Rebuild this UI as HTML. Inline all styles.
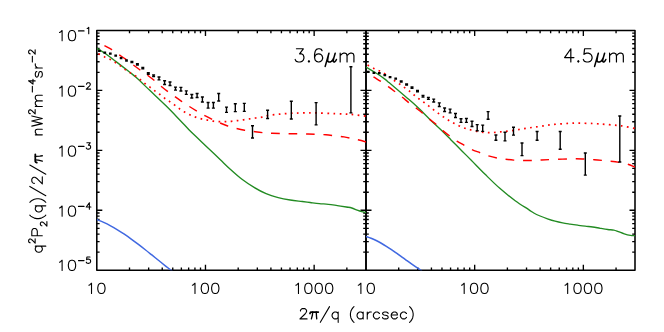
<!DOCTYPE html>
<html><head><meta charset="utf-8"><title>plot</title>
<style>html,body{margin:0;padding:0;background:#fff;font-family:"Liberation Sans",sans-serif}svg{display:block}</style></head><body>
<svg width="664" height="332" viewBox="0 0 664 332">
<rect width="664" height="332" fill="#fff"/>
<defs><clipPath id="cl"><rect x="96.8" y="30.4" width="269.2" height="239.8"/></clipPath><clipPath id="cr"><rect x="366" y="30.4" width="269" height="239.8"/></clipPath></defs>
<path d="M129.51 270.2v-2.8M129.51 30.4v2.8M148.65 270.2v-2.8M148.65 30.4v2.8M162.23 270.2v-2.8M162.23 30.4v2.8M172.76 270.2v-2.8M172.76 30.4v2.8M181.37 270.2v-2.8M181.37 30.4v2.8M188.64 270.2v-2.8M188.64 30.4v2.8M194.94 270.2v-2.8M194.94 30.4v2.8M200.5 270.2v-2.8M200.5 30.4v2.8M205.47 270.2v-5.5M205.47 30.4v5.5M238.19 270.2v-2.8M238.19 30.4v2.8M257.33 270.2v-2.8M257.33 30.4v2.8M270.9 270.2v-2.8M270.9 30.4v2.8M281.43 270.2v-2.8M281.43 30.4v2.8M290.04 270.2v-2.8M290.04 30.4v2.8M297.32 270.2v-2.8M297.32 30.4v2.8M303.62 270.2v-2.8M303.62 30.4v2.8M309.18 270.2v-2.8M309.18 30.4v2.8M314.15 270.2v-5.5M314.15 30.4v5.5M346.86 270.2v-2.8M346.86 30.4v2.8M398.71 270.2v-2.8M398.71 30.4v2.8M417.85 270.2v-2.8M417.85 30.4v2.8M431.43 270.2v-2.8M431.43 30.4v2.8M441.96 270.2v-2.8M441.96 30.4v2.8M450.57 270.2v-2.8M450.57 30.4v2.8M457.84 270.2v-2.8M457.84 30.4v2.8M464.14 270.2v-2.8M464.14 30.4v2.8M469.7 270.2v-2.8M469.7 30.4v2.8M474.67 270.2v-5.5M474.67 30.4v5.5M507.39 270.2v-2.8M507.39 30.4v2.8M526.53 270.2v-2.8M526.53 30.4v2.8M540.1 270.2v-2.8M540.1 30.4v2.8M550.63 270.2v-2.8M550.63 30.4v2.8M559.24 270.2v-2.8M559.24 30.4v2.8M566.52 270.2v-2.8M566.52 30.4v2.8M572.82 270.2v-2.8M572.82 30.4v2.8M578.38 270.2v-2.8M578.38 30.4v2.8M583.35 270.2v-5.5M583.35 30.4v5.5M616.06 270.2v-2.8M616.06 30.4v2.8M96.8 90.35h5.5M360.5 90.35h11M635 90.35h-5.5M96.8 72.3h2.8M363.2 72.3h5.6M635 72.3h-2.8M96.8 61.75h2.8M363.2 61.75h5.6M635 61.75h-2.8M96.8 54.26h2.8M363.2 54.26h5.6M635 54.26h-2.8M96.8 48.45h2.8M363.2 48.45h5.6M635 48.45h-2.8M96.8 43.7h2.8M363.2 43.7h5.6M635 43.7h-2.8M96.8 39.69h2.8M363.2 39.69h5.6M635 39.69h-2.8M96.8 36.21h2.8M363.2 36.21h5.6M635 36.21h-2.8M96.8 33.14h2.8M363.2 33.14h5.6M635 33.14h-2.8M96.8 150.3h5.5M360.5 150.3h11M635 150.3h-5.5M96.8 132.25h2.8M363.2 132.25h5.6M635 132.25h-2.8M96.8 121.7h2.8M363.2 121.7h5.6M635 121.7h-2.8M96.8 114.21h2.8M363.2 114.21h5.6M635 114.21h-2.8M96.8 108.4h2.8M363.2 108.4h5.6M635 108.4h-2.8M96.8 103.65h2.8M363.2 103.65h5.6M635 103.65h-2.8M96.8 99.64h2.8M363.2 99.64h5.6M635 99.64h-2.8M96.8 96.16h2.8M363.2 96.16h5.6M635 96.16h-2.8M96.8 93.09h2.8M363.2 93.09h5.6M635 93.09h-2.8M96.8 210.25h5.5M360.5 210.25h11M635 210.25h-5.5M96.8 192.2h2.8M363.2 192.2h5.6M635 192.2h-2.8M96.8 181.65h2.8M363.2 181.65h5.6M635 181.65h-2.8M96.8 174.16h2.8M363.2 174.16h5.6M635 174.16h-2.8M96.8 168.35h2.8M363.2 168.35h5.6M635 168.35h-2.8M96.8 163.6h2.8M363.2 163.6h5.6M635 163.6h-2.8M96.8 159.59h2.8M363.2 159.59h5.6M635 159.59h-2.8M96.8 156.11h2.8M363.2 156.11h5.6M635 156.11h-2.8M96.8 153.04h2.8M363.2 153.04h5.6M635 153.04h-2.8M96.8 252.15h2.8M363.2 252.15h5.6M635 252.15h-2.8M96.8 241.6h2.8M363.2 241.6h5.6M635 241.6h-2.8M96.8 234.11h2.8M363.2 234.11h5.6M635 234.11h-2.8M96.8 228.3h2.8M363.2 228.3h5.6M635 228.3h-2.8M96.8 223.55h2.8M363.2 223.55h5.6M635 223.55h-2.8M96.8 219.54h2.8M363.2 219.54h5.6M635 219.54h-2.8M96.8 216.06h2.8M363.2 216.06h5.6M635 216.06h-2.8M96.8 212.99h2.8M363.2 212.99h5.6M635 212.99h-2.8" fill="none" stroke="#000" stroke-width="1.35"/>
<path d="M96.8 30.4H635V270.2H96.8Z" fill="none" stroke="#000" stroke-width="1.55" stroke-linejoin="round"/>
<path d="M366 30.4V270.2" fill="none" stroke="#000" stroke-width="1.9"/>
<defs><clipPath id="cl"><rect x="96.8" y="30.4" width="269.2" height="239.8"/></clipPath><clipPath id="cr"><rect x="366" y="30.4" width="269" height="239.8"/></clipPath></defs>
<g fill="none" stroke-linejoin="round">
<g clip-path="url(#cl)">
<path d="M96.8 219.59 C97.95 220.06 101.39 221.35 103.68 222.39 C105.98 223.43 108.27 224.58 110.56 225.82 C112.86 227.05 115.15 228.39 117.45 229.79 C119.74 231.19 122.03 232.68 124.33 234.23 C126.62 235.77 128.92 237.39 131.21 239.05 C133.5 240.7 135.8 242.42 138.09 244.17 C140.38 245.91 142.68 247.7 144.97 249.51 C147.27 251.31 149.56 253.15 151.85 254.98 C154.15 256.82 156.44 258.67 158.74 260.51 C161.03 262.35 163.32 264.2 165.62 266.02 C167.91 267.83 171.35 270.51 172.5 271.41" stroke="#4169e1" stroke-width="1.55"/>
<path d="M96.8 48.3 C98.13 49.13 101.65 51.12 104.8 53.3 C107.95 55.48 111.63 58.32 115.7 61.4 C119.77 64.48 125.82 69.15 129.2 71.8 C132.58 74.45 132.53 74.17 136 77.3 C139.47 80.43 145 85.85 150 90.6 C155 95.35 161 100.87 166 105.8 C171 110.73 176.13 116.17 180 120.2 C183.87 124.23 186.02 126.78 189.2 130 C192.38 133.22 195.97 136.5 199.1 139.5 C202.23 142.5 204.5 144.67 208 148 C211.5 151.33 216.43 156 220.1 159.5 C223.77 163 226.35 165.7 230 169 C233.65 172.3 237.98 176.23 242 179.3 C246.02 182.37 250.08 185 254.1 187.4 C258.12 189.8 262.08 192 266.1 193.7 C270.12 195.4 274.18 196.55 278.2 197.6 C282.22 198.65 286.18 199.35 290.2 200 C294.22 200.65 298.97 201.08 302.3 201.5 C305.63 201.92 307.37 202.15 310.2 202.5 C313.03 202.85 316.28 203.3 319.3 203.6 C322.32 203.9 325.3 203.97 328.3 204.3 C331.3 204.63 334.28 205.15 337.3 205.6 C340.32 206.05 343.98 206.6 346.4 207 C348.82 207.4 350 207.48 351.8 208 C353.6 208.52 355.55 209.5 357.2 210.1 C358.85 210.7 360.23 211.18 361.7 211.6 C363.17 212.02 365.28 212.43 366 212.6" stroke="#228b22" stroke-width="1.35"/>
<path d="M96.8 52.9 C97.17 53.08 97.7 53.33 99 54 C100.3 54.67 102.72 56 104.6 56.9 C106.48 57.8 108.5 58.47 110.3 59.4 C112.1 60.33 113.72 61.42 115.4 62.5 C117.08 63.58 118.77 64.72 120.4 65.9 C122.03 67.08 123.55 68.43 125.2 69.6 C126.85 70.77 128.58 71.85 130.3 72.9 C132.02 73.95 133.85 74.78 135.5 75.9 C137.15 77.02 138.67 78.37 140.2 79.6 C141.73 80.83 143.08 82.05 144.7 83.3 C146.32 84.55 148.22 85.83 149.9 87.1 C151.58 88.37 153.18 89.7 154.8 90.9 C156.42 92.1 157.97 93.08 159.6 94.3 C161.23 95.52 162.97 97.02 164.6 98.2 C166.23 99.38 167.77 100.28 169.4 101.4 C171.03 102.52 172.8 103.73 174.4 104.9 C176 106.07 177.38 107.25 179 108.4 C180.62 109.55 182.3 110.73 184.1 111.8 C185.9 112.87 187.92 113.92 189.8 114.8 C191.68 115.68 193.47 116.42 195.4 117.1 C197.33 117.78 199.4 118.4 201.4 118.9 C203.4 119.4 205.4 119.72 207.4 120.1 C209.4 120.48 211.38 120.95 213.4 121.2 C215.42 121.45 217.48 121.53 219.5 121.6 C221.52 121.67 223.5 121.65 225.5 121.6 C227.5 121.55 229.5 121.47 231.5 121.3 C233.5 121.13 235.48 120.85 237.5 120.6 C239.52 120.35 241.58 120.08 243.6 119.8 C245.62 119.52 247.6 119.2 249.6 118.9 C251.6 118.6 253.55 118.3 255.6 118 C257.65 117.7 259.9 117.5 261.9 117.1 C263.9 116.7 264.75 116.08 267.6 115.6 C270.45 115.12 275.1 114.58 279 114.2 C282.9 113.82 287 113.52 291 113.3 C295 113.08 298.83 112.97 303 112.9 C307.17 112.83 310.67 112.78 316 112.9 C321.33 113.02 329.17 113.35 335 113.6 C340.83 113.85 345.83 113.97 351 114.4 C356.17 114.83 363.5 115.9 366 116.2" stroke="#ff0000" stroke-width="1.7" stroke-dasharray="1.7 4.38" stroke-dashoffset="4.2"/>
<path d="M96.8 41.4 C98.07 42.1 101.9 44.22 104.4 45.6 C106.9 46.98 109.32 48.15 111.8 49.7 C114.28 51.25 117 53.32 119.3 54.9 C121.6 56.48 123.27 57.52 125.6 59.2 C127.93 60.88 130.88 63.2 133.3 65 C135.72 66.8 137.77 68.32 140.1 70 C142.43 71.68 144.97 73.38 147.3 75.1 C149.63 76.82 151.85 78.48 154.1 80.3 C156.35 82.12 158.55 84.15 160.8 86 C163.05 87.85 165.33 89.68 167.6 91.4 C169.87 93.12 172.02 94.6 174.4 96.3 C176.78 98 179.48 99.95 181.9 101.6 C184.32 103.25 186.4 104.62 188.9 106.2 C191.4 107.78 194.43 109.62 196.9 111.1 C199.37 112.58 201.32 113.8 203.7 115.1 C206.08 116.4 208.57 117.63 211.2 118.9 C213.83 120.17 216.75 121.52 219.5 122.7 C222.25 123.88 224.95 125.05 227.7 126 C230.45 126.95 233.18 127.68 236 128.4 C238.82 129.12 241.72 129.78 244.6 130.3 C247.48 130.82 250.33 131.12 253.3 131.5 C256.27 131.88 259.28 132.3 262.4 132.6 C265.52 132.9 267.4 133.12 272 133.3 C276.6 133.48 284 133.58 290 133.7 C296 133.82 303.5 133.9 308 134 C312.5 134.1 314 134.17 317 134.3 C320 134.43 323 134.55 326 134.8 C329 135.05 332 135.45 335 135.8 C338 136.15 341.17 136.45 344 136.9 C346.83 137.35 349.5 137.98 352 138.5 C354.5 139.02 356.67 139.42 359 140 C361.33 140.58 364.83 141.67 366 142" stroke="#ff0000" stroke-width="1.45" stroke-dasharray="8.72 8.72" stroke-dashoffset="8.72"/>
</g>
<g clip-path="url(#cr)">
<path d="M366 236.46 C366.85 236.75 369.39 237.56 371.09 238.24 C372.79 238.91 374.48 239.69 376.18 240.53 C377.88 241.36 379.58 242.28 381.27 243.25 C382.97 244.22 384.67 245.26 386.36 246.33 C388.06 247.4 389.76 248.53 391.45 249.67 C393.15 250.82 394.85 252.02 396.55 253.21 C398.24 254.41 399.94 255.64 401.64 256.86 C403.33 258.09 405.03 259.33 406.73 260.54 C408.42 261.76 410.12 262.99 411.82 264.17 C413.52 265.36 415.21 266.54 416.91 267.67 C418.61 268.81 421.15 270.41 422 270.96" stroke="#4169e1" stroke-width="1.55"/>
<path d="M366 67 C367.13 67.68 370.55 69.72 372.8 71.1 C375.05 72.48 377.55 74 379.5 75.3 C381.45 76.6 382.92 77.68 384.5 78.9 C386.08 80.12 386.73 80.7 389 82.6 C391.27 84.5 395.08 87.75 398.1 90.3 C401.12 92.85 404.47 95.65 407.1 97.9 C409.73 100.15 411.75 101.85 413.9 103.8 C416.05 105.75 417.3 106.95 420 109.6 C422.7 112.25 426.62 116.33 430.1 119.7 C433.58 123.07 437.42 126.43 440.9 129.8 C444.38 133.17 447.45 136.33 451 139.9 C454.55 143.47 458.78 147.77 462.2 151.2 C465.62 154.63 467.68 156.65 471.5 160.5 C475.32 164.35 480.33 169.62 485.1 174.3 C489.87 178.98 495.08 184.2 500.1 188.6 C505.12 193 510.43 197.2 515.2 200.7 C519.97 204.2 525.6 207.55 528.7 209.6 C531.8 211.65 531.9 211.93 533.8 213 C535.7 214.07 537.82 215.03 540.1 216 C542.38 216.97 545 217.93 547.5 218.8 C550 219.67 552.58 220.52 555.1 221.2 C557.62 221.88 560.1 222.42 562.6 222.9 C565.1 223.38 567.58 223.72 570.1 224.1 C572.62 224.48 575.18 224.85 577.7 225.2 C580.22 225.55 582.7 225.9 585.2 226.2 C587.7 226.5 590.2 226.65 592.7 227 C595.2 227.35 597.68 227.88 600.2 228.3 C602.72 228.72 605.53 229.2 607.8 229.5 C610.07 229.8 612.05 229.75 613.8 230.1 C615.55 230.45 616.55 230.97 618.3 231.6 C620.05 232.23 622.28 233.27 624.3 233.9 C626.32 234.53 628.62 235.1 630.4 235.4 C632.18 235.7 634.23 235.65 635 235.7" stroke="#228b22" stroke-width="1.35"/>
<path d="M366 64.2 C366.38 64.4 366.98 64.7 368.3 65.4 C369.62 66.1 372.07 67.5 373.9 68.4 C375.73 69.3 377.48 69.9 379.3 70.8 C381.12 71.7 383.07 72.75 384.8 73.8 C386.53 74.85 388.07 75.95 389.7 77.1 C391.33 78.25 392.9 79.5 394.6 80.7 C396.3 81.9 398.23 83.15 399.9 84.3 C401.57 85.45 403 86.45 404.6 87.6 C406.2 88.75 407.92 89.97 409.5 91.2 C411.08 92.43 412.55 93.73 414.1 95 C415.65 96.27 417.18 97.58 418.8 98.8 C420.42 100.02 422.17 101.12 423.8 102.3 C425.43 103.48 427 104.67 428.6 105.9 C430.2 107.13 431.77 108.45 433.4 109.7 C435.03 110.95 436.73 112.2 438.4 113.4 C440.07 114.6 441.72 115.77 443.4 116.9 C445.08 118.03 446.77 119.15 448.5 120.2 C450.23 121.25 452.02 122.25 453.8 123.2 C455.58 124.15 457.37 125.07 459.2 125.9 C461.03 126.73 462.95 127.55 464.8 128.2 C466.65 128.85 467.75 129.17 470.3 129.8 C472.85 130.43 476.88 131.52 480.1 132 C483.32 132.48 486.43 132.7 489.6 132.7 C492.77 132.7 495.93 132.28 499.1 132 C502.27 131.72 505.27 131.42 508.6 131 C511.93 130.58 515.6 130.03 519.1 129.5 C522.6 128.97 526.08 128.32 529.6 127.8 C533.12 127.28 536.43 126.93 540.2 126.4 C543.97 125.87 546.68 125.13 552.2 124.6 C557.72 124.07 566.28 123.37 573.3 123.2 C580.32 123.03 588.33 123.35 594.3 123.6 C600.27 123.85 604.53 124.32 609.1 124.7 C613.67 125.08 617.38 125.27 621.7 125.9 C626.02 126.53 632.78 128.07 635 128.5" stroke="#ff0000" stroke-width="1.7" stroke-dasharray="1.7 4.38" stroke-dashoffset="4.2"/>
<path d="M366 72.2 C367.32 73.02 371.38 75.53 373.9 77.1 C376.42 78.67 378.65 79.97 381.1 81.6 C383.55 83.23 386.17 85.13 388.6 86.9 C391.03 88.67 393.4 90.47 395.7 92.2 C398 93.93 400.23 95.57 402.4 97.3 C404.57 99.03 406.47 100.83 408.7 102.6 C410.93 104.37 413.48 106.15 415.8 107.9 C418.12 109.65 420.33 111.23 422.6 113.1 C424.87 114.97 427.17 117.23 429.4 119.1 C431.63 120.97 433.77 122.38 436 124.3 C438.23 126.22 440.55 128.68 442.8 130.6 C445.05 132.52 447.15 134.05 449.5 135.8 C451.85 137.55 454.43 139.52 456.9 141.1 C459.37 142.68 461.83 143.9 464.3 145.3 C466.77 146.7 469.07 148.27 471.7 149.5 C474.33 150.73 477.3 151.63 480.1 152.7 C482.9 153.77 485.68 155.02 488.5 155.9 C491.32 156.78 494.18 157.45 497 158 C499.82 158.55 502.6 158.85 505.4 159.2 C508.2 159.55 510.82 159.88 513.8 160.1 C516.78 160.32 520.32 160.43 523.3 160.5 C526.28 160.57 528.88 160.57 531.7 160.5 C534.52 160.43 536.78 160.27 540.2 160.1 C543.62 159.93 546.68 159.72 552.2 159.5 C557.72 159.28 568.03 158.88 573.3 158.8 C578.57 158.72 580.3 158.85 583.8 159 C587.3 159.15 590.78 159.42 594.3 159.7 C597.82 159.98 601.38 160.35 604.9 160.7 C608.42 161.05 611.88 161.3 615.4 161.8 C618.92 162.3 622.73 162.83 626 163.7 C629.27 164.57 633.5 166.45 635 167" stroke="#ff0000" stroke-width="1.45" stroke-dasharray="8.77 8.77" stroke-dashoffset="8.77"/>
</g>
</g>
<path d="M99.4 50.4V51.2M98.05 50.4H100.75M98.05 51.2H100.75M104.8 52.2V53M103.45 52.2H106.15M103.45 53H106.15M110.3 53.2V54M108.95 53.2H111.65M108.95 54H111.65M115.7 55.15V56.05M114.35 55.15H117.05M114.35 56.05H117.05M121.1 57.6V58.6M119.75 57.6H122.45M119.75 58.6H122.45M126.5 60V61M125.15 60H127.85M125.15 61H127.85M131.9 61.55V62.65M130.4 61.55H133.4M130.4 62.65H133.4M137.4 63.8V65M135.9 63.8H138.9M135.9 65H138.9M142.8 67.55V68.85M141.3 67.55H144.3M141.3 68.85H144.3M148.3 72.8V74.2M146.8 72.8H149.8M146.8 74.2H149.8M153.6 75V76.6M152.1 75H155.1M152.1 76.6H155.1M159 76.95V79.85M157.5 76.95H160.5M157.5 79.85H160.5M164.6 80.75V84.45M163.1 80.75H166.1M163.1 84.45H166.1M170 82.05V85.55M168.5 82.05H171.5M168.5 85.55H171.5M175.5 87.15V90.15M174 87.15H177M174 90.15H177M180.9 87.35V90.95M179.4 87.35H182.4M179.4 90.95H182.4M186.3 90.85V94.35M184.8 90.85H187.8M184.8 94.35H187.8M191.8 94.45V98.05M190.3 94.45H193.3M190.3 98.05H193.3M197.1 93.55V97.55M195.6 93.55H198.6M195.6 97.55H198.6M202.4 97.05V102.05M200.9 97.05H203.9M200.9 102.05H203.9M208.1 102.55V108.15M206.6 102.55H209.6M206.6 108.15H209.6M213.4 102.55V108.15M211.9 102.55H214.9M211.9 108.15H214.9M218.7 93.55V101.05M217.2 93.55H220.2M217.2 101.05H220.2M226.5 107.15V112.35M225 107.15H228M225 112.35H228M235.3 103.75V111.65M233.8 103.75H236.8M233.8 111.65H236.8M244.3 103.35V111.35M242.8 103.35H245.8M242.8 111.35H245.8M252.5 125.75V137.95M251 125.75H254M251 137.95H254M267.6 110.25V118.55M266.1 110.25H269.1M266.1 118.55H269.1M291.3 101.25V118.95M289.8 101.25H292.8M289.8 118.95H292.8M316.1 102.65V124.85M314.6 102.65H317.6M314.6 124.85H317.6M350.9 66.75V112.85M349.4 66.75H352.4M349.4 112.85H352.4M368.3 71.4V72.2M366.95 71.4H369.65M366.95 72.2H369.65M373.9 72.5V73.3M372.55 72.5H375.25M372.55 73.3H375.25M379.3 72.8V73.6M377.95 72.8H380.65M377.95 73.6H380.65M384.8 74.75V75.65M383.45 74.75H386.15M383.45 75.65H386.15M390.1 76.6V77.6M388.75 76.6H391.45M388.75 77.6H391.45M395.7 78.1V79.1M394.35 78.1H397.05M394.35 79.1H397.05M401.2 80.95V82.05M399.7 80.95H402.7M399.7 82.05H402.7M406.6 83.9V85.1M405.1 83.9H408.1M405.1 85.1H408.1M412 86.95V88.25M410.5 86.95H413.5M410.5 88.25H413.5M417.5 90.5V91.9M416 90.5H419M416 91.9H419M423 95.5V97.1M421.5 95.5H424.5M421.5 97.1H424.5M428.4 97.4V99.2M426.9 97.4H429.9M426.9 99.2H429.9M433.7 99.15V102.05M432.2 99.15H435.2M432.2 102.05H435.2M439.3 102.85V106.55M437.8 102.85H440.8M437.8 106.55H440.8M444.6 108.05V111.55M443.1 108.05H446.1M443.1 111.55H446.1M450.1 109.15V112.85M448.6 109.15H451.6M448.6 112.85H451.6M455.5 113.55V117.45M454 113.55H457M454 117.45H457M461 118.75V122.35M459.5 118.75H462.5M459.5 122.35H462.5M466.4 118.45V122.35M464.9 118.45H467.9M464.9 122.35H467.9M472 121.25V126.55M470.5 121.25H473.5M470.5 126.55H473.5M477.2 124.65V130.75M475.7 124.65H478.7M475.7 130.75H478.7M482.7 125.15V131.35M481.2 125.15H484.2M481.2 131.35H484.2M488.1 111.65V119.25M486.6 111.65H489.6M486.6 119.25H489.6M495.9 135.05V140.25M494.4 135.05H497.4M494.4 140.25H497.4M505 132.25V140.85M503.5 132.25H506.5M503.5 140.85H506.5M513.5 127.25V135.15M512 127.25H515M512 135.15H515M522 142.95V155.65M520.5 142.95H523.5M520.5 155.65H523.5M537.1 131.45V140.25M535.6 131.45H538.6M535.6 140.25H538.6M560.2 131.45V149.25M558.7 131.45H561.7M558.7 149.25H561.7M585.3 152.95V175.15M583.8 152.95H586.8M583.8 175.15H586.8M619.8 116.05V161.95M618.3 116.05H621.3M618.3 161.95H621.3" fill="none" stroke="#000" stroke-width="1.4"/>
<g fill="none" stroke="#000" stroke-linecap="round" stroke-linejoin="round">
<path d="M59.52 32.47L60.56 31.98L62.12 30.51L62.12 40.8 M71.48 30.51L69.92 31L68.88 32.47L68.36 34.92L68.36 36.39L68.88 38.84L69.92 40.31L71.48 40.8L72.52 40.8L74.08 40.31L75.12 38.84L75.64 36.39L75.64 34.92L75.12 32.47L74.08 31L72.52 30.51L71.48 30.51 M78.45 30.92L84.06 30.92 M87.18 28.49L87.81 28.18L88.74 27.27L88.74 33.65" stroke-width="1.1"/>
<path d="M59.52 87.97L60.56 87.48L62.12 86.01L62.12 96.3 M71.48 86.01L69.92 86.5L68.88 87.97L68.36 90.42L68.36 91.89L68.88 94.34L69.92 95.81L71.48 96.3L72.52 96.3L74.08 95.81L75.12 94.34L75.64 91.89L75.64 90.42L75.12 87.97L74.08 86.5L72.52 86.01L71.48 86.01 M78.45 86.42L84.06 86.42 M86.56 84.29L86.56 83.99L86.87 83.38L87.18 83.07L87.81 82.77L89.06 82.77L89.68 83.07L89.99 83.38L90.3 83.99L90.3 84.59L89.99 85.2L89.37 86.11L86.25 89.15L90.62 89.15" stroke-width="1.1"/>
<path d="M59.52 147.97L60.56 147.48L62.12 146.01L62.12 156.3 M71.48 146.01L69.92 146.5L68.88 147.97L68.36 150.42L68.36 151.89L68.88 154.34L69.92 155.81L71.48 156.3L72.52 156.3L74.08 155.81L75.12 154.34L75.64 151.89L75.64 150.42L75.12 147.97L74.08 146.5L72.52 146.01L71.48 146.01 M78.45 146.42L84.06 146.42 M86.87 142.77L90.3 142.77L88.43 145.2L89.37 145.2L89.99 145.5L90.3 145.81L90.62 146.72L90.62 147.33L90.3 148.24L89.68 148.85L88.74 149.15L87.81 149.15L86.87 148.85L86.56 148.54L86.25 147.93" stroke-width="1.1"/>
<path d="M59.52 207.97L60.56 207.48L62.12 206.01L62.12 216.3 M71.48 206.01L69.92 206.5L68.88 207.97L68.36 210.42L68.36 211.89L68.88 214.34L69.92 215.81L71.48 216.3L72.52 216.3L74.08 215.81L75.12 214.34L75.64 211.89L75.64 210.42L75.12 207.97L74.08 206.5L72.52 206.01L71.48 206.01 M78.45 206.42L84.06 206.42 M89.37 202.77L86.25 207.02L90.93 207.02 M89.37 202.77L89.37 209.15" stroke-width="1.1"/>
<path d="M59.52 262.17L60.56 261.68L62.12 260.21L62.12 270.5 M71.48 260.21L69.92 260.7L68.88 262.17L68.36 264.62L68.36 266.09L68.88 268.54L69.92 270.01L71.48 270.5L72.52 270.5L74.08 270.01L75.12 268.54L75.64 266.09L75.64 264.62L75.12 262.17L74.08 260.7L72.52 260.21L71.48 260.21 M78.45 260.62L84.06 260.62 M89.99 256.97L86.87 256.97L86.56 259.7L86.87 259.4L87.81 259.1L88.74 259.1L89.68 259.4L90.3 260.01L90.62 260.92L90.62 261.53L90.3 262.44L89.68 263.05L88.74 263.35L87.81 263.35L86.87 263.05L86.56 262.74L86.25 262.13" stroke-width="1.1"/>
<path d="M88.92 285.17L89.96 284.68L91.52 283.21L91.52 293.5 M100.88 283.21L99.32 283.7L98.28 285.17L97.76 287.62L97.76 289.09L98.28 291.54L99.32 293.01L100.88 293.5L101.92 293.5L103.48 293.01L104.52 291.54L105.04 289.09L105.04 287.62L104.52 285.17L103.48 283.7L101.92 283.21L100.88 283.21" stroke-width="1.1"/>
<path d="M192.39 285.17L193.43 284.68L194.99 283.21L194.99 293.5 M204.35 283.21L202.79 283.7L201.75 285.17L201.23 287.62L201.23 289.09L201.75 291.54L202.79 293.01L204.35 293.5L205.39 293.5L206.95 293.01L207.99 291.54L208.51 289.09L208.51 287.62L207.99 285.17L206.95 283.7L205.39 283.21L204.35 283.21 M214.75 283.21L213.19 283.7L212.15 285.17L211.63 287.62L211.63 289.09L212.15 291.54L213.19 293.01L214.75 293.5L215.79 293.5L217.35 293.01L218.39 291.54L218.91 289.09L218.91 287.62L218.39 285.17L217.35 283.7L215.79 283.21L214.75 283.21" stroke-width="1.1"/>
<path d="M295.87 285.17L296.91 284.68L298.47 283.21L298.47 293.5 M307.83 283.21L306.27 283.7L305.23 285.17L304.71 287.62L304.71 289.09L305.23 291.54L306.27 293.01L307.83 293.5L308.87 293.5L310.43 293.01L311.47 291.54L311.99 289.09L311.99 287.62L311.47 285.17L310.43 283.7L308.87 283.21L307.83 283.21 M318.23 283.21L316.67 283.7L315.63 285.17L315.11 287.62L315.11 289.09L315.63 291.54L316.67 293.01L318.23 293.5L319.27 293.5L320.83 293.01L321.87 291.54L322.39 289.09L322.39 287.62L321.87 285.17L320.83 283.7L319.27 283.21L318.23 283.21 M328.63 283.21L327.07 283.7L326.03 285.17L325.51 287.62L325.51 289.09L326.03 291.54L327.07 293.01L328.63 293.5L329.67 293.5L331.23 293.01L332.27 291.54L332.79 289.09L332.79 287.62L332.27 285.17L331.23 283.7L329.67 283.21L328.63 283.21" stroke-width="1.1"/>
<path d="M358.3 285.17L359.34 284.68L360.9 283.21L360.9 293.5 M370.26 283.21L368.7 283.7L367.66 285.17L367.14 287.62L367.14 289.09L367.66 291.54L368.7 293.01L370.26 293.5L371.3 293.5L372.86 293.01L373.9 291.54L374.42 289.09L374.42 287.62L373.9 285.17L372.86 283.7L371.3 283.21L370.26 283.21" stroke-width="1.1"/>
<path d="M461.59 285.17L462.63 284.68L464.19 283.21L464.19 293.5 M473.55 283.21L471.99 283.7L470.95 285.17L470.43 287.62L470.43 289.09L470.95 291.54L471.99 293.01L473.55 293.5L474.59 293.5L476.15 293.01L477.19 291.54L477.71 289.09L477.71 287.62L477.19 285.17L476.15 283.7L474.59 283.21L473.55 283.21 M483.95 283.21L482.39 283.7L481.35 285.17L480.83 287.62L480.83 289.09L481.35 291.54L482.39 293.01L483.95 293.5L484.99 293.5L486.55 293.01L487.59 291.54L488.11 289.09L488.11 287.62L487.59 285.17L486.55 283.7L484.99 283.21L483.95 283.21" stroke-width="1.1"/>
<path d="M565.07 285.17L566.11 284.68L567.67 283.21L567.67 293.5 M577.03 283.21L575.47 283.7L574.43 285.17L573.91 287.62L573.91 289.09L574.43 291.54L575.47 293.01L577.03 293.5L578.07 293.5L579.63 293.01L580.67 291.54L581.19 289.09L581.19 287.62L580.67 285.17L579.63 283.7L578.07 283.21L577.03 283.21 M587.43 283.21L585.87 283.7L584.83 285.17L584.31 287.62L584.31 289.09L584.83 291.54L585.87 293.01L587.43 293.5L588.47 293.5L590.03 293.01L591.07 291.54L591.59 289.09L591.59 287.62L591.07 285.17L590.03 283.7L588.47 283.21L587.43 283.21 M597.83 283.21L596.27 283.7L595.23 285.17L594.71 287.62L594.71 289.09L595.23 291.54L596.27 293.01L597.83 293.5L598.87 293.5L600.43 293.01L601.47 291.54L601.99 289.09L601.99 287.62L601.47 285.17L600.43 283.7L598.87 283.21L597.83 283.21" stroke-width="1.1"/>
<path d="M296.43 48.77L303.3 48.77L299.55 53.81L301.43 53.81L302.68 54.44L303.3 55.07L303.93 56.96L303.93 58.22L303.3 60.11L302.05 61.37L300.18 62L298.3 62L296.43 61.37L295.8 60.74L295.18 59.48 M308.93 60.74L308.3 61.37L308.93 62L309.55 61.37L308.93 60.74 M322.05 50.66L321.43 49.4L319.55 48.77L318.3 48.77L316.43 49.4L315.18 51.29L314.55 54.44L314.55 57.59L315.18 60.11L316.43 61.37L318.3 62L318.93 62L320.8 61.37L322.05 60.11L322.68 58.22L322.68 57.59L322.05 55.7L320.8 54.44L318.93 53.81L318.3 53.81L316.43 54.44L315.18 55.7L314.55 57.59 M340.18 53.18L340.18 62 M340.18 55.7L342.05 53.81L343.3 53.18L345.18 53.18L346.43 53.81L347.05 55.7L347.05 62 M347.05 55.7L348.93 53.81L350.18 53.18L352.05 53.18L353.3 53.81L353.93 55.7L353.93 62" stroke-width="1.2"/>
<path d="M328.93 53.18L325.18 66.41 M328.3 55.7L327.68 59.48L327.68 61.37L328.93 62L330.18 62L331.43 61.37L332.68 60.11L333.93 57.59 M335.18 53.18L333.93 57.59L333.3 60.11L333.3 61.37L333.93 62L334.55 62L335.8 60.74L336.43 59.48" stroke-width="1.55"/>
<path d="M570.83 48.77L564.58 57.59L573.95 57.59 M570.83 48.77L570.83 62 M578.33 60.74L577.7 61.37L578.33 62L578.95 61.37L578.33 60.74 M590.83 48.77L584.58 48.77L583.95 54.44L584.58 53.81L586.45 53.18L588.33 53.18L590.2 53.81L591.45 55.07L592.08 56.96L592.08 58.22L591.45 60.11L590.2 61.37L588.33 62L586.45 62L584.58 61.37L583.95 60.74L583.33 59.48 M609.58 53.18L609.58 62 M609.58 55.7L611.45 53.81L612.7 53.18L614.58 53.18L615.83 53.81L616.45 55.7L616.45 62 M616.45 55.7L618.33 53.81L619.58 53.18L621.45 53.18L622.7 53.81L623.33 55.7L623.33 62" stroke-width="1.2"/>
<path d="M598.33 53.18L594.58 66.41 M597.7 55.7L597.08 59.48L597.08 61.37L598.33 62L599.58 62L600.83 61.37L602.08 60.11L603.33 57.59 M604.58 53.18L603.33 57.59L602.7 60.11L602.7 61.37L603.33 62L603.95 62L605.2 60.74L605.83 59.48" stroke-width="1.55"/>
<path d="M300.44 311.06L300.44 310.57L300.95 309.59L301.46 309.1L302.48 308.61L304.52 308.61L305.54 309.1L306.05 309.59L306.56 310.57L306.56 311.55L306.05 312.53L305.03 314L299.93 318.9L307.07 318.9 M329.51 306.65L320.33 322.33 M338.18 312.04L338.18 322.33 M338.18 313.51L337.16 312.53L336.14 312.04L334.61 312.04L333.59 312.53L332.57 313.51L332.06 314.98L332.06 315.96L332.57 317.43L333.59 318.41L334.61 318.9L336.14 318.9L337.16 318.41L338.18 317.43 M353.99 306.65L352.97 307.63L351.95 309.1L350.93 311.06L350.42 313.51L350.42 315.47L350.93 317.92L351.95 319.88L352.97 321.35L353.99 322.33 M363.17 312.04L363.17 318.9 M363.17 313.51L362.15 312.53L361.13 312.04L359.6 312.04L358.58 312.53L357.56 313.51L357.05 314.98L357.05 315.96L357.56 317.43L358.58 318.41L359.6 318.9L361.13 318.9L362.15 318.41L363.17 317.43 M367.25 312.04L367.25 318.9 M367.25 314.98L367.76 313.51L368.78 312.53L369.8 312.04L371.33 312.04 M379.49 313.51L378.47 312.53L377.45 312.04L375.92 312.04L374.9 312.53L373.88 313.51L373.37 314.98L373.37 315.96L373.88 317.43L374.9 318.41L375.92 318.9L377.45 318.9L378.47 318.41L379.49 317.43 M388.16 313.51L387.65 312.53L386.12 312.04L384.59 312.04L383.06 312.53L382.55 313.51L383.06 314.49L384.08 314.98L386.63 315.47L387.65 315.96L388.16 316.94L388.16 317.43L387.65 318.41L386.12 318.9L384.59 318.9L383.06 318.41L382.55 317.43 M391.22 314.98L397.34 314.98L397.34 314L396.83 313.02L396.32 312.53L395.3 312.04L393.77 312.04L392.75 312.53L391.73 313.51L391.22 314.98L391.22 315.96L391.73 317.43L392.75 318.41L393.77 318.9L395.3 318.9L396.32 318.41L397.34 317.43 M406.52 313.51L405.5 312.53L404.48 312.04L402.95 312.04L401.93 312.53L400.91 313.51L400.4 314.98L400.4 315.96L400.91 317.43L401.93 318.41L402.95 318.9L404.48 318.9L405.5 318.41L406.52 317.43 M409.58 306.65L410.6 307.63L411.62 309.1L412.64 311.06L413.15 313.51L413.15 315.47L412.64 317.92L411.62 319.88L410.6 321.35L409.58 322.33" stroke-width="1.1"/>
<path d="M309.98 313.51L310.38 312.53L311.15 312.04L318.29 312.04" stroke-width="1.75"/>
<path d="M312.68 312.04L312.42 314.98L311.4 318.9 M316.25 312.04L316.5 316.45L316.76 318.9" stroke-width="1.35"/>
<path d="M35.3 246.14L45.8 246.14 M36.8 246.14L35.8 247.16L35.3 248.18L35.3 249.71L35.8 250.73L36.8 251.76L38.3 252.27L39.3 252.27L40.8 251.76L41.8 250.73L42.3 249.71L42.3 248.18L41.8 247.16L40.8 246.14 M30.19 242.82L29.88 242.82L29.26 242.51L28.95 242.19L28.64 241.56L28.64 240.29L28.95 239.66L29.26 239.34L29.88 239.02L30.5 239.02L31.12 239.34L32.05 239.97L35.15 243.14L35.15 238.71 M31.8 235.71L42.3 235.71 M31.8 235.71L31.8 231.11L32.3 229.58L32.8 229.07L33.8 228.56L35.3 228.56L36.3 229.07L36.8 229.58L37.3 231.11L37.3 235.71 M41.94 225.76L41.63 225.76L41.01 225.44L40.7 225.12L40.39 224.49L40.39 223.22L40.7 222.59L41.01 222.27L41.63 221.95L42.25 221.95L42.87 222.27L43.8 222.9L46.9 226.07L46.9 221.64 M29.8 215.07L30.8 216.09L32.3 217.11L34.3 218.13L36.8 218.64L38.8 218.64L41.3 218.13L43.3 217.11L44.8 216.09L45.8 215.07 M35.3 205.87L45.8 205.87 M36.8 205.87L35.8 206.89L35.3 207.91L35.3 209.45L35.8 210.47L36.8 211.49L38.3 212L39.3 212L40.8 211.49L41.8 210.47L42.3 209.45L42.3 207.91L41.8 206.89L40.8 205.87 M29.8 202.29L30.8 201.27L32.3 200.25L34.3 199.23L36.8 198.71L38.8 198.71L41.3 199.23L43.3 200.25L44.8 201.27L45.8 202.29 M29.8 186.45L45.8 195.65 M34.3 183.38L33.8 183.38L32.8 182.87L32.3 182.36L31.8 181.34L31.8 179.3L32.3 178.27L32.8 177.76L33.8 177.25L34.8 177.25L35.8 177.76L37.3 178.79L42.3 183.9L42.3 176.74 M29.8 164.99L45.8 174.19 M35.3 134.84L42.3 134.84 M37.3 134.84L35.8 133.31L35.3 132.28L35.3 130.75L35.8 129.73L37.3 129.22L42.3 129.22 M31.8 126.15L42.3 123.6 M31.8 121.04L42.3 123.6 M31.8 121.04L42.3 118.49 M31.8 115.93L42.3 118.49 M30.19 113.64L29.88 113.64L29.26 113.33L28.95 113.01L28.64 112.38L28.64 111.11L28.95 110.47L29.26 110.16L29.88 109.84L30.5 109.84L31.12 110.16L32.05 110.79L35.15 113.96L35.15 109.52 M35.3 106.53L42.3 106.53 M37.3 106.53L35.8 105L35.3 103.97L35.3 102.44L35.8 101.42L37.3 100.91L42.3 100.91 M37.3 100.91L35.8 99.38L35.3 98.35L35.3 96.82L35.8 95.8L37.3 95.29L42.3 95.29 M32.36 91.98L32.36 86.27 M28.64 80.89L32.98 84.06L32.98 79.3 M28.64 80.89L35.15 80.89 M36.8 71.52L35.8 72.03L35.3 73.56L35.3 75.09L35.8 76.63L36.8 77.14L37.8 76.63L38.3 75.6L38.8 73.05L39.3 72.03L40.3 71.52L40.8 71.52L41.8 72.03L42.3 73.56L42.3 75.09L41.8 76.63L40.8 77.14 M35.3 67.94L42.3 67.94 M38.3 67.94L36.8 67.43L35.8 66.41L35.3 65.38L35.3 63.85 M32.36 62.07L32.36 56.37 M30.19 53.84L29.88 53.84L29.26 53.52L28.95 53.2L28.64 52.57L28.64 51.3L28.95 50.67L29.26 50.35L29.88 50.03L30.5 50.03L31.12 50.35L32.05 50.98L35.15 54.15L35.15 49.72" stroke-width="1.1"/>
<path d="M36.8 162.59L35.8 162.18L35.3 161.41L35.3 154.26" stroke-width="1.75"/>
<path d="M35.3 159.88L38.3 160.13L42.3 161.16 M35.3 156.3L39.8 156.05L42.3 155.79" stroke-width="1.35"/>
</g>
</svg></body></html>
